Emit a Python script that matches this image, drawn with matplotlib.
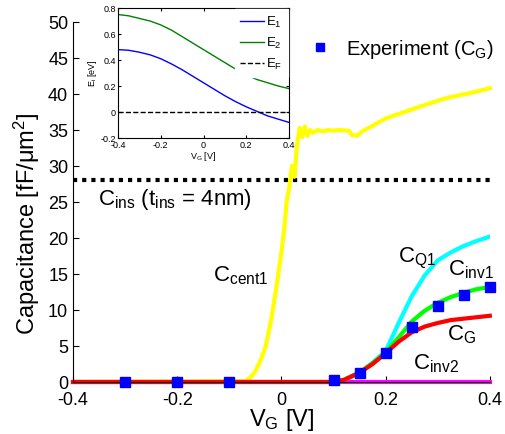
import numpy as np
import matplotlib
matplotlib.use("Agg")
import matplotlib.pyplot as plt
from matplotlib.lines import Line2D

# Font mirip Helvetica/Arial, subscript tidak miring
plt.rcParams["font.family"] = ["Liberation Sans", "DejaVu Sans"]
plt.rcParams["mathtext.default"] = "regular"

# Data kurva kapasitansi
vg_cent = [-0.4, -0.07, -0.06, -0.05, -0.04, -0.03, -0.02, -0.01, 0.0, 0.005,
           0.01, 0.015, 0.02, 0.025, 0.03, 0.035, 0.04, 0.045, 0.05, 0.055,
           0.06, 0.07, 0.08, 0.09, 0.10, 0.11, 0.13, 0.135, 0.145, 0.155,
           0.18, 0.20, 0.24, 0.28, 0.32, 0.36, 0.40]
c_cent1 = [0.0, 0.1, 0.6, 1.5, 3.0, 5.0, 8.5, 13.0, 18.0, 21.0,
           25.0, 27.0, 30.0, 28.5, 33.0, 35.3, 34.0, 35.5, 34.2, 35.0,
           34.6, 35.0, 34.8, 35.0, 34.9, 35.0, 34.9, 34.3, 34.2, 34.8,
           35.8, 36.6, 37.6, 38.6, 39.5, 40.1, 40.8]

vg_inv = [-0.4, 0.10, 0.12, 0.15, 0.175, 0.20, 0.225, 0.25, 0.275, 0.30, 0.325, 0.35, 0.375, 0.40]
c_g = [0.0, 0.0, 0.3, 1.3, 2.5, 4.0, 5.6, 6.9, 7.7, 8.2, 8.6, 8.8, 9.0, 9.2]
c_inv1 = [0.0, 0.0, 0.3, 1.3, 2.6, 4.1, 6.2, 8.4, 9.9, 11.0, 11.8, 12.4, 12.9, 13.2]
c_q1 = [0.0, 0.0, 0.3, 1.3, 2.7, 4.3, 8.2, 11.9, 14.8, 16.9, 18.0, 18.9, 19.6, 20.2]
c_inv2 = [0.0, 0.0, 0.0, 0.0, 0.0, 0.0, 0.0, 0.0, 0.0, 0.0, 0.0, 0.0, 0.0, 0.0]

c_ins = 28.0

# Data eksperimen
vg_exp = [-0.3, -0.2, -0.1, 0.1, 0.15, 0.2, 0.25, 0.3, 0.35, 0.4]
c_exp = [0.0, 0.0, 0.0, 0.3, 1.3, 4.0, 7.6, 10.5, 12.1, 13.2]

# Data inset (energi sub-band)
vg_e = [-0.4, -0.35, -0.3, -0.25, -0.2, -0.15, -0.1, -0.05, 0.0, 0.05,
        0.1, 0.15, 0.2, 0.25, 0.3, 0.35, 0.4]
e1 = [0.48, 0.475, 0.46, 0.44, 0.41, 0.37, 0.325, 0.275, 0.225, 0.175,
      0.125, 0.08, 0.04, 0.005, -0.03, -0.055, -0.08]
e2 = [0.75, 0.74, 0.72, 0.70, 0.67, 0.63, 0.58, 0.53, 0.48, 0.43,
      0.38, 0.33, 0.285, 0.25, 0.225, 0.20, 0.18]
ef = [0.0] * len(vg_e)

fig = plt.figure(figsize=(5.05, 4.34), dpi=100)
ax = fig.add_axes([0.1446, 0.1198, 0.8254, 0.8295])

# Kurva utama
ax.plot([-0.4, 0.4], [c_ins, c_ins], color="black", lw=3, linestyle=(0, (1, 1.2)))
ax.plot(vg_cent, c_cent1, color="#FFFF00", lw=3, clip_on=False)
ax.plot(vg_inv, c_inv2, color="#FF00FF", lw=3, clip_on=False)
ax.plot(vg_inv, c_q1, color="#00FFFF", lw=3)
ax.plot(vg_inv, c_inv1, color="#00FF00", lw=3)
ax.plot(vg_inv, c_g, color="#FF0000", lw=3, clip_on=False)
ax.plot(vg_exp, c_exp, linestyle="none", marker="s", color="#0000FF", ms=7, clip_on=False, zorder=5)

ax.set_xlim(-0.4, 0.4)
ax.set_ylim(0, 50)
ax.set_xticks([-0.4, -0.2, 0, 0.2, 0.4])
ax.set_xticklabels(["-0.4", "-0.2", "0", "0.2", "0.4"])
ax.set_yticks(range(0, 51, 5))
ax.tick_params(direction="in", labelsize=13, length=4)
ax.tick_params(axis="x", pad=7)
ax.spines["top"].set_visible(False)
ax.spines["right"].set_visible(False)
ax.set_xlabel("V$_G$ [V]", fontsize=17, labelpad=-1)
ax.set_ylabel("Capacitance [fF/\u03bcm$^2$]", fontsize=17)
ax.yaxis.set_label_coords(-0.075, 0.44)

# Label kurva
ax.text(-0.352, 25.3, "C$_{ins}$ (t$_{ins}$ = 4nm)", fontsize=16, va="center")
ax.text(-0.131, 14.7, "C$_{cent1}$", fontsize=16, va="center")
ax.text(0.224, 17.2, "C$_{Q1}$", fontsize=16, va="center")
ax.text(0.32, 15.6, "C$_{inv1}$", fontsize=16, va="center")
ax.text(0.318, 6.6, "C$_G$", fontsize=16, va="center")
ax.text(0.253, 2.5, "C$_{inv2}$", fontsize=16, va="center")

# Legend eksperimen
exp_handle = Line2D([], [], linestyle="none", marker="s", color="#0000FF", ms=6)
ax.legend([exp_handle], ["Experiment (C$_G$)"], loc="center left",
          bbox_to_anchor=(0.50, 0.925), frameon=False, fontsize=14.5,
          handletextpad=0.3)

# Inset
axin = fig.add_axes([0.2337, 0.682, 0.3386, 0.2995])
axin.plot(vg_e, e1, color="#0000FF", lw=1, label="E$_1$")
axin.plot(vg_e, e2, color="#008000", lw=1, label="E$_2$")
axin.plot(vg_e, ef, color="black", lw=1, linestyle="--", label="E$_F$")
axin.set_xlim(-0.4, 0.4)
axin.set_ylim(-0.2, 0.8)
axin.set_xticks([-0.4, -0.2, 0, 0.2, 0.4])
axin.set_xticklabels(["-0.4", "-0.2", "0", "0.2", "0.4"])
axin.set_yticks([-0.2, 0, 0.2, 0.4, 0.6, 0.8])
axin.set_yticklabels(["-0.2", "0", "0.2", "0.4", "0.6", "0.8"])
axin.tick_params(direction="in", labelsize=6.5, length=2, pad=1.5, top=True, right=True)
axin.tick_params(axis="x", pad=2.5)
axin.set_xlabel("V$_G$ [V]", fontsize=6.5, labelpad=0)
axin.set_ylabel("E$_i$ [eV]", fontsize=6.5, labelpad=1)
leg = axin.legend(loc="upper right", fontsize=9.5, handlelength=1.8, handletextpad=0.2,
                  borderaxespad=0.1, frameon=True, fancybox=False, labelspacing=0.45)
leg.get_frame().set_edgecolor("white")
leg.get_frame().set_alpha(1)

plt.savefig("out.png", dpi=100)
